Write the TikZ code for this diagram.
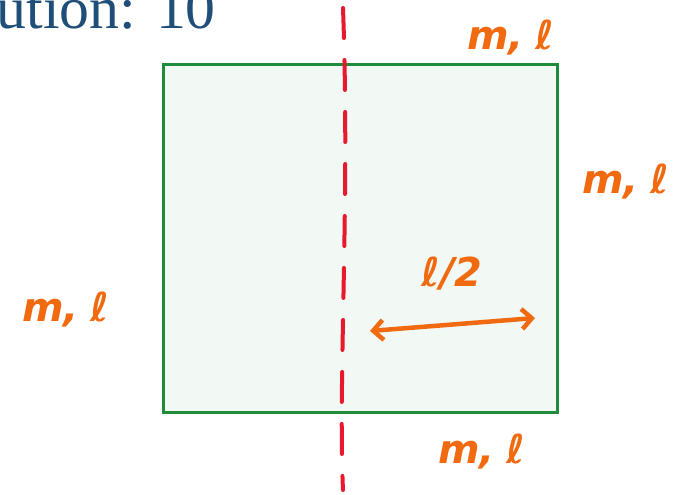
\documentclass[tikz,border=0pt]{standalone}
\usepackage{fontspec}
\setmainfont{Liberation Serif}
\newfontfamily\handfont{DejaVu Sans}
\usepackage{xcolor}
\usetikzlibrary{arrows.meta,positioning,calc}

\definecolor{titleblue}{HTML}{1F4E79}
\definecolor{plategreen}{HTML}{1E8C3A}
\definecolor{platefill}{HTML}{F2F8F3}
\definecolor{inkorange}{HTML}{F26A10}
\definecolor{axisred}{HTML}{E8192C}

\begin{document}
\begin{tikzpicture}[
  x=1bp,y=-1bp,
  ink/.style={text=inkorange,font=\handfont\bfseries\itshape\fontsize{40}{42}\selectfont,inner sep=0pt},
  plate/.style={draw=plategreen,line width=3bp,fill=platefill},
  axisline/.style={draw=axisred,line width=4bp,line cap=round,dash pattern=on 30bp off 22bp},
  span/.style={draw=inkorange,line width=4.5bp,line cap=round,
    {Straight Barb[length=10bp,width=20bp]}-{Straight Barb[length=10bp,width=20bp]}}
]
\useasboundingbox (0,0) rectangle (680,495);
\node[anchor=base east,text=titleblue,font=\fontsize{60}{62}\selectfont,inner sep=0pt]
  (title) at (216,29) {Solution: 10};

\draw[plate] (163,65) rectangle (557,412);
\coordinate (plateNW) at (163,65);
\coordinate (plateSE) at (557,412);

% rotation axis
\coordinate (axtop) at (343,8);
\coordinate (axbot) at (343,490);
\draw[axisline] (axtop) .. controls (350,200) and (338,380) .. (axbot);

% rods
\node[ink] (mtop) at (511,38) {m,\hspace{0.3em}ℓ};
\node[ink] (mright) at (626,182) {m,\hspace{0.3em}ℓ};
\node[ink] (mleft) at (66,310) {m,\hspace{0.3em}ℓ};
\node[ink] (mbot) at (482,452) {m,\hspace{0.3em}ℓ};

% distance
\coordinate (dl) at (370,331);
\coordinate (dr) at (535,318);
\draw[span] (dl) -- (dr);
\node[ink] (half) at (452,274) {ℓ/2};
\end{tikzpicture}
\end{document}
